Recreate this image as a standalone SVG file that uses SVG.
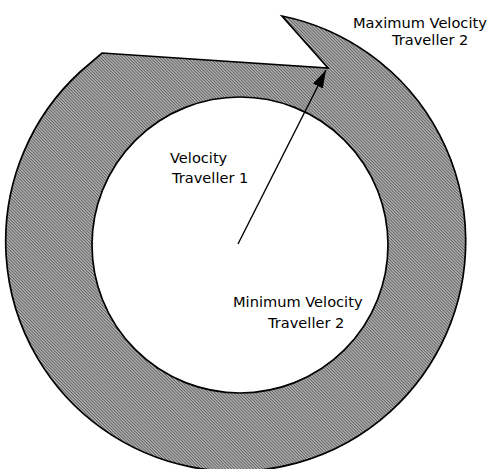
<svg xmlns="http://www.w3.org/2000/svg" width="496" height="469" viewBox="0 0 496 469">
  <style>
    .lbl { font-family: "DejaVu Sans", Verdana, sans-serif; font-size: 14.6px; fill: #000; }
    .band { fill: url(#hatch); fill-rule: evenodd; stroke: #000; stroke-width: 1.7; stroke-linejoin: miter; }
    .conn { stroke: #000; stroke-width: 1.4; fill: none; }
  </style>
  <defs>
    <pattern id="hatch" width="2.2" height="2.2" patternUnits="userSpaceOnUse" patternTransform="rotate(45)">
      <rect width="2.2" height="2.2" fill="#b8b8b8"/>
      <rect width="2.2" height="1" fill="#606060"/>
    </pattern>
    <marker id="arrow" markerUnits="userSpaceOnUse" markerWidth="20" markerHeight="12" refX="18" refY="6" orient="auto">
      <path d="M0,0.5 L18,6 L0,11.5 Z" fill="#000"/>
    </marker>
  </defs>
  <rect width="496" height="469" fill="#fff"/>
  <g id="band">
    <path class="band" d="M 282 16 A 230 230 0 1 1 80 72 L 102 53 L 328 68 Z M 388 245 A 148 148 0 1 0 92 245 A 148 148 0 1 0 388 245 Z"/>
  </g>
  <g id="connectors">
    <line class="conn" x1="238" y1="244" x2="326" y2="70" marker-end="url(#arrow)"/>
  </g>
  <g id="label-max">
    <text class="lbl" x="353" y="28">Maximum Velocity</text>
    <text class="lbl" x="392" y="45">Traveller 2</text>
  </g>
  <g id="label-v1">
    <text class="lbl" x="170" y="163">Velocity</text>
    <text class="lbl" x="172" y="183">Traveller 1</text>
  </g>
  <g id="label-min">
    <text class="lbl" x="233" y="307">Minimum Velocity</text>
    <text class="lbl" x="268" y="328">Traveller 2</text>
  </g>
</svg>
